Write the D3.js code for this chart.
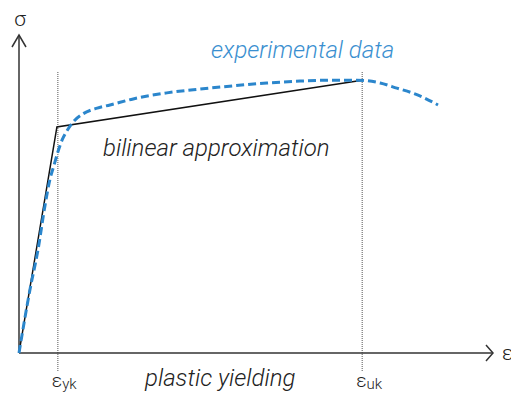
<!DOCTYPE html>
<html><head><meta charset="utf-8">
<script src="https://cdn.jsdelivr.net/npm/d3@7"></script>
<style>
html,body{margin:0;padding:0;background:#fff;}
svg{display:block;}
text{font-family:Roboto,"Noto Sans",sans-serif;font-weight:300;}
</style></head>
<body>
<script>
// Strain / stress in arbitrary units (0..100)
const bilinearStrain = [0, 8.0, 72.4];
const bilinearStress = [0, 71.1, 85.8];
const expStrain = [0, 2.3, 4.0, 5.5, 6.5, 7.4, 8.2, 9.1, 10.1, 11.4, 13.5, 16.5, 19.2, 24.1, 31.2, 38.2, 45.1, 52.3, 59.3, 66.2, 71.3, 76.2, 79.7, 84.2, 88.4];
const expStress = [0, 19.8, 32.4, 46.5, 54.4, 59.1, 63.2, 67.0, 69.8, 72.6, 75.2, 77.0, 78.0, 79.9, 81.8, 83.0, 84.0, 84.9, 85.5, 85.8, 85.8, 84.9, 83.3, 81.1, 78.0];
const markerStrains = [8.2, 72.4];
const markerLabels = [["ε", "yk"], ["ε", "uk"]];
const labels = {experimental: "experimental data", bilinear: "bilinear approximation", plastic: "plastic yielding", yAxis: "σ", xAxis: "ε"};

const W = 511, H = 396;
const svg = d3.select("body").append("svg").attr("width", W).attr("height", H);
const x = d3.scaleLinear().domain([0, 100]).range([19, 493]);
const y = d3.scaleLinear().domain([0, 100]).range([353, 35]);

// dotted verticals
markerStrains.forEach(s => {
  svg.append("line").attr("x1", x(s)).attr("x2", x(s)).attr("y1", 72).attr("y2", 372)
    .attr("stroke", "#555").attr("stroke-width", 1).attr("stroke-dasharray", "1,1");
});

// axes
const axisColor = "#333";
svg.append("line").attr("x1", x(0)).attr("x2", x(0)).attr("y1", y(0)).attr("y2", y(100))
  .attr("stroke", axisColor).attr("stroke-width", 1.5);
svg.append("line").attr("x1", x(0)).attr("x2", x(100)).attr("y1", y(0)).attr("y2", y(0))
  .attr("stroke", axisColor).attr("stroke-width", 1.5);
svg.append("path").attr("d", `M${x(0)-7},${y(100)+12} L${x(0)},${y(100)} L${x(0)+7},${y(100)+12}`)
  .attr("fill", "none").attr("stroke", axisColor).attr("stroke-width", 1.5);
svg.append("path").attr("d", `M${x(100)-7},${y(0)-8} L${x(100)},${y(0)} L${x(100)-7},${y(0)+8}`)
  .attr("fill", "none").attr("stroke", axisColor).attr("stroke-width", 1.5);

// bilinear
const bil = bilinearStrain.map((s, i) => [s, bilinearStress[i]]);
svg.append("path").datum(bil)
  .attr("d", d3.line().x(d => x(d[0])).y(d => y(d[1])))
  .attr("fill", "none").attr("stroke", "#111").attr("stroke-width", 1.5);

// experimental
const exp = expStrain.map((s, i) => [s, expStress[i]]);
svg.append("path").datum(exp)
  .attr("d", d3.line().curve(d3.curveMonotoneX).x(d => x(d[0])).y(d => y(d[1])))
  .attr("fill", "none").attr("stroke", "#2b86cc").attr("stroke-width", 3)
  .attr("stroke-dasharray", "8,4");

// labels
svg.append("text").attr("x", 20).attr("y", 26).attr("text-anchor", "middle")
  .attr("font-size", 21).attr("fill", "#222").text(labels.yAxis);
svg.append("text").attr("x", 502).attr("y", 360)
  .attr("font-size", 21).attr("fill", "#222").text(labels.xAxis);

markerStrains.forEach((s, i) => {
  const t = svg.append("text").attr("x", x(s) - 6).attr("y", 387).attr("fill", "#222").attr("font-size", 19);
  t.append("tspan").text(markerLabels[i][0]);
  t.append("tspan").attr("font-size", 15).attr("dy", 2).text(markerLabels[i][1]);
});

svg.append("text").attr("x", 211).attr("y", 58).attr("font-size", 24).attr("font-style", "italic")
  .attr("fill", "#3a8fd0").text(labels.experimental);
svg.append("text").attr("x", 103).attr("y", 156).attr("font-size", 24).attr("font-style", "italic")
  .attr("fill", "#222").text(labels.bilinear);
svg.append("text").attr("x", 145).attr("y", 386).attr("font-size", 24).attr("font-style", "italic")
  .attr("fill", "#222").text(labels.plastic);
</script>
</body></html>
